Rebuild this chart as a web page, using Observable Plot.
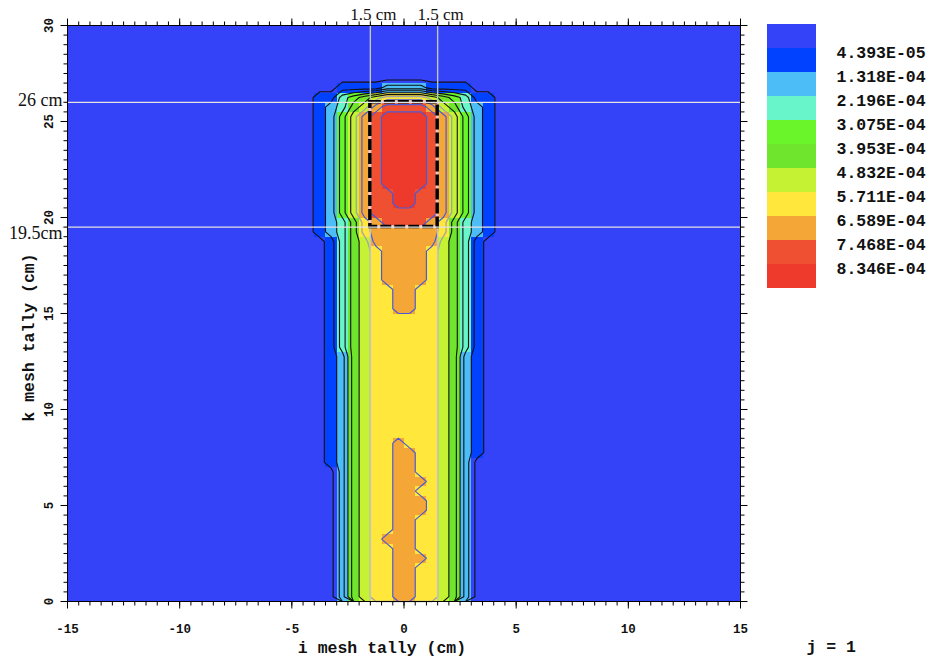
<!DOCTYPE html>
<html><head><meta charset="utf-8">
<script src="https://cdn.jsdelivr.net/npm/d3@7"></script>
<script src="https://cdn.jsdelivr.net/npm/@observablehq/plot@0.6"></script>
<style>
html,body{margin:0;padding:0;background:#fff;}
#wrap{position:relative;width:932px;height:658px;overflow:hidden;background:#fff;}
#chart{position:absolute;left:0;top:0;}
#legend{position:absolute;left:760px;top:0;}
</style></head><body>
<div id="wrap"><div id="chart"></div><div id="legend"></div></div>
<script>
// ---- data ----
const thresholds = [4.393e-5, 1.318e-4, 2.196e-4, 3.075e-4, 3.953e-4, 4.832e-4, 5.711e-4, 6.589e-4, 7.468e-4, 8.346e-4];
const thresholdLabels = ["4.393E-05","1.318E-04","2.196E-04","3.075E-04","3.953E-04","4.832E-04","5.711E-04","6.589E-04","7.468E-04","8.346E-04"];
const bandColors = ["#3442F8","#0042FF","#4CBDF7","#68F5C9","#6AF52B","#70E52E","#C5F232","#FFE83B","#F4A736","#EF5032","#EE3A2D"];
// representative tally value of each colour band (band midpoints)
const bandValues = [1.5e-5, 8.79e-5, 1.757e-4, 2.636e-4, 3.514e-4, 4.393e-4, 5.272e-4, 6.15e-4, 7.03e-4, 7.907e-4, 8.8e-4];
// left edges (cm) of the mesh columns that carry non-background bands
const meshColumnsCm = [-4.5,-4,-3.5,-3,-2.5,-2,-1.5,-1,-0.5,0,0.5,1,1.5,2,2.5,3,3.5,4];
// band index per mesh cell, one string per 0.5 cm row, from z = 30 (top) down to z = 0
const meshRows = [
"000000000000000000", // 29.5
"000000000000000000", // 29
"000000000000000000", // 28.5
"000000000000000000", // 28
"000000000000000000", // 27.5
"000000000000000000", // 27
"000111122221111000", // 26.5
"011345677776543110", // 26
"012356899998653210", // 25.5
"0124689AAAA9864210", // 25
"0124689AAAA9864210", // 24.5
"0124689AAAA9864210", // 24
"0124689AAAA9864210", // 23.5
"0124689AAAA9864210", // 23
"0124689AAAA9864210", // 22.5
"0124689AAAA9864210", // 22
"0124689AAAA9864210", // 21.5
"01246899AA99864210", // 21
"01246899AA99864210", // 20.5
"012468999999864210", // 20
"012357899998753210", // 19.5
"012357888888753210", // 19
"001356888888653100", // 18.5
"001356788887653100", // 18
"001356788887653100", // 17.5
"001356788887653100", // 17
"001356788887653100", // 16.5
"001356778877653100", // 16
"001356778877653100", // 15.5
"001356778877653100", // 15
"001356777777653100", // 14.5
"001356777777653100", // 14
"001356777777653100", // 13.5
"001356777777653100", // 13
"001256777777652100", // 12.5
"001256777777652100", // 12
"001256777777652100", // 11.5
"001256777777652100", // 11
"001256777777652100", // 10.5
"001256777777652100", // 10
"001256777777652100", // 9.5
"001256777777652100", // 9
"001256777777652100", // 8.5
"001256778777652100", // 8
"001256778877652100", // 7.5
"001256778877652000", // 7
"000256778877652000", // 6.5
"000256778887652000", // 6
"000256778877652000", // 5.5
"000256778887652000", // 5
"000256778887652000", // 4.5
"000256778877652000", // 4
"000256778877652000", // 3.5
"000256788877652000", // 3
"000256778877652000", // 2.5
"000256778887652000", // 2
"000256778877652000", // 1.5
"000256778877652000", // 1
"000256778877652000", // 0.5
"000256778877652000"  // 0
];
const xTicksMajor = [-15,-10,-5,0,5,10,15];
const yTicksMajor = [0,5,10,15,20,25,30];
const sourceX = [-1.5, 1.5];
const sourceZ = [19.5, 26];
const refLabelsX = ["1.5 cm", "1.5 cm"];
const refLabelsZ = ["19.5cm", "26 cm"];

// ---- build the 60 x 60 mesh grid ----
const NX = 60, NZ = 60, CELL = 0.5;
const grid = new Array(NX * NZ).fill(bandValues[0]);
meshRows.forEach((row, j) => {
  for (let k = 0; k < row.length; k++) {
    const level = parseInt(row[k], 16);
    const i = Math.round((meshColumnsCm[k] + 15) / CELL);
    grid[j * NX + i] = bandValues[level];
  }
});
const gridOpts = {width: NX, height: NZ, x1: -15, x2: 15, y1: 30, y2: 0};

const mono = "'Liberation Mono','Courier New',monospace";
const serif = "'Liberation Serif','Times New Roman',serif";
const tickSym = (dx, dy) => ({draw(ctx) { ctx.moveTo(0, 0); ctx.lineTo(dx, dy); }});
const xMinor = d3.range(-15, 15.001, 0.5);
const yMinor = d3.range(0, 30.001, 0.5);
const tickStyle = {fill: "none", stroke: "black", strokeWidth: 1};
const sourceBox = [{x1: sourceX[0], x2: sourceX[1], y1: sourceZ[0], y2: sourceZ[1]}];
const txt = {fontFamily: mono, fontWeight: "bold", fill: "#111", lineAnchor: "middle"};

const mainPlot = Plot.plot({
  width: 932, height: 658,
  marginLeft: 67, marginRight: 192, marginTop: 25, marginBottom: 57,
  x: {domain: [-15, 15], axis: null},
  y: {domain: [0, 30], axis: null},
  color: {type: "threshold", domain: thresholds, range: bandColors},
  style: {background: "white", fontFamily: mono, overflow: "visible"},
  marks: [
    Plot.raster(grid, {...gridOpts, fill: d => d, imageRendering: "pixelated"}),
    Plot.contour(grid, {...gridOpts, value: d => d, thresholds: thresholds.slice(0, 6), fill: "none", stroke: "#111", strokeWidth: 1.1}),
    Plot.contour(grid, {...gridOpts, value: d => d, thresholds: thresholds.slice(6, 7), fill: "none", stroke: "#a4a4a4", strokeWidth: 1.3}),
    Plot.contour(grid, {...gridOpts, value: d => d, thresholds: thresholds.slice(7), fill: "none", stroke: "#4b5ad6", strokeWidth: 1.2}),
    Plot.ruleX(sourceX, {x: d => d, insetTop: -6, stroke: "#c4c4c4", strokeWidth: 1.4}),
    Plot.rect(sourceBox, {x1: "x1", x2: "x2", y1: "y1", y2: "y2", fill: "none", stroke: "#f2c4c0", strokeWidth: 3}),
    Plot.rect(sourceBox, {x1: "x1", x2: "x2", y1: "y1", y2: "y2", fill: "none", stroke: "black", strokeWidth: 3.5, strokeDasharray: "11,3"}),
    Plot.ruleY(sourceZ, {y: d => d, insetLeft: -5, stroke: "#e4e4e4", strokeWidth: 1.2}),
    Plot.frame({stroke: "black", strokeWidth: 1}),
    Plot.dot(xMinor, {x: d => d, frameAnchor: "bottom", symbol: tickSym(0, 4), ...tickStyle}),
    Plot.dot(xTicksMajor, {x: d => d, frameAnchor: "bottom", symbol: tickSym(0, 7), ...tickStyle}),
    Plot.dot(xMinor, {x: d => d, frameAnchor: "top", symbol: tickSym(0, -4), ...tickStyle}),
    Plot.dot(xTicksMajor, {x: d => d, frameAnchor: "top", symbol: tickSym(0, -7), ...tickStyle}),
    Plot.dot(yMinor, {y: d => d, frameAnchor: "left", symbol: tickSym(-4, 0), ...tickStyle}),
    Plot.dot(yTicksMajor, {y: d => d, frameAnchor: "left", symbol: tickSym(-7, 0), ...tickStyle}),
    Plot.dot(yMinor, {y: d => d, frameAnchor: "right", symbol: tickSym(4, 0), ...tickStyle}),
    Plot.dot(yTicksMajor, {y: d => d, frameAnchor: "right", symbol: tickSym(7, 0), ...tickStyle}),
    Plot.text(xTicksMajor, {x: d => d, frameAnchor: "bottom", dy: 27, textAnchor: "middle", text: d => String(d), fontSize: 12.5, ...txt}),
    Plot.text(yTicksMajor, {y: d => d, frameAnchor: "left", dx: -19, rotate: -90, textAnchor: "middle", text: d => String(d), fontSize: 12.5, ...txt}),
    Plot.text(["i mesh tally (cm)"], {frameAnchor: "bottom", dx: -22, dy: 46, textAnchor: "middle", text: d => d, fontSize: 16.5, ...txt}),
    Plot.text(["k mesh tally (cm)"], {frameAnchor: "left", dx: -39, dy: 24, rotate: -90, textAnchor: "middle", text: d => d, fontSize: 16.5, ...txt}),
    Plot.text(["j = 1"], {frameAnchor: "bottom-right", dx: 66, dy: 45, textAnchor: "start", text: d => d, fontSize: 16.5, ...txt}),
    Plot.text(sourceX, {x: d => d, frameAnchor: "top", dx: 3, dy: -11, textAnchor: "middle", lineAnchor: "middle", text: (d, i) => refLabelsX[i], fontFamily: serif, fontSize: 17, fill: "#111"}),
    Plot.text(sourceZ, {y: d => d, frameAnchor: "left", dx: -5, textAnchor: "end", lineAnchor: "middle", text: (d, i) => refLabelsZ[i], fontFamily: serif, fontSize: 18, fill: "#111"})
  ]
});
document.getElementById("chart").appendChild(mainPlot);

// vertical placement of the two z reference labels relative to their lines
mainPlot.querySelectorAll("text").forEach(t => {
  if (t.textContent === "19.5cm") t.setAttribute("dy", "0.34em");
  if (t.textContent === "26 cm") t.setAttribute("dy", "-0.1em");
});

const legendPlot = Plot.plot({
  width: 172, height: 300,
  marginLeft: 7, marginRight: 116, marginTop: 24, marginBottom: 12,
  y: {type: "band", domain: d3.range(11), padding: 0, axis: null},
  style: {background: "transparent", overflow: "visible"},
  marks: [
    Plot.cell(d3.range(11), {y: d => d, fill: d => bandColors[d], inset: 0}),
    Plot.text(thresholdLabels, {y: (d, i) => i + 1, frameAnchor: "right", dx: 20, dy: -8, textAnchor: "start", text: d => d, fontSize: 16.5, ...txt})
  ]
});
document.getElementById("legend").appendChild(legendPlot);
</script>
</body></html>
